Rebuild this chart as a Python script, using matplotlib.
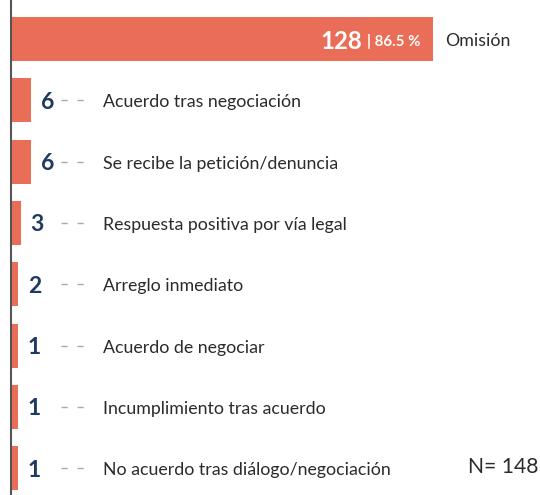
import matplotlib.pyplot as plt
import numpy as np

categories = ["Omisión", "Acuerdo tras negociación", "Se recibe la petición/denuncia",
              "Respuesta positiva por vía legal", "Arreglo inmediato",
              "Acuerdo de negociar", "Incumplimiento tras acuerdo",
              "No acuerdo tras diálogo/negociación"]
values = [128, 6, 6, 3, 2, 1, 1, 1]
total = 148

bar_color = "#EA6E57"
num_color = "#1F3A60"
txt_color = "#2B2B2B"

plt.rcParams['font.family'] = ['Lato', 'DejaVu Sans']

fig = plt.figure(figsize=(5.4, 4.95), dpi=100)
ax = fig.add_axes([0, 0, 1, 1])

# pixel -> data helpers (figure is 540 px wide, axis line at x=11 px)
scale = (433 - 11) / 128.0
def px(p):
    return (p - 11) / scale

row_h = 61.3
y0 = 39
ax.set_xlim(px(0), px(540))
ax.set_ylim((495 - y0) / row_h, -y0 / row_h)

# very small bars get a minimum visible width, as in the original
min_w = 2.1
shown = [max(v, min_w) for v in values]

pos = np.arange(len(values))
ax.barh(pos, shown, height=44 / row_h, color=bar_color, zorder=2)
ax.axvline(0, color="#555555", lw=1.5, zorder=3)

def label(x, y, s, dx=0, dy=-1.5, **kw):
    ax.annotate(s, (x, y), xytext=(dx, dy), textcoords="offset points",
                va="center", **kw)

for i, (cat, v, w) in enumerate(zip(categories, values, shown)):
    if i == 0:
        label(px(362), i, str(v), color="white", fontsize=17.3,
              fontweight="bold", ha="right")
        label(px(367), i, "| %.1f %%" % (100.0 * v / total), color="white",
              fontsize=10.8, fontweight="bold", ha="left")
        label(px(445), i, cat, color=txt_color, fontsize=12.8, ha="left")
    else:
        label(w, i, str(v), dx=7, color=num_color, fontsize=16.5,
              fontweight="bold", ha="left")
        ax.plot([px(61), px(85)], [i, i], color="#AAAAAA", lw=1,
                dashes=(4.5, 7), solid_capstyle="butt")
        label(px(103), i, cat, color=txt_color, fontsize=12.8, ha="left")

label(px(468), 7, "N= %d" % total, dy=1, color=txt_color, fontsize=15.2, ha="left")

ax.axis("off")
fig.savefig("out.png", dpi=100)
